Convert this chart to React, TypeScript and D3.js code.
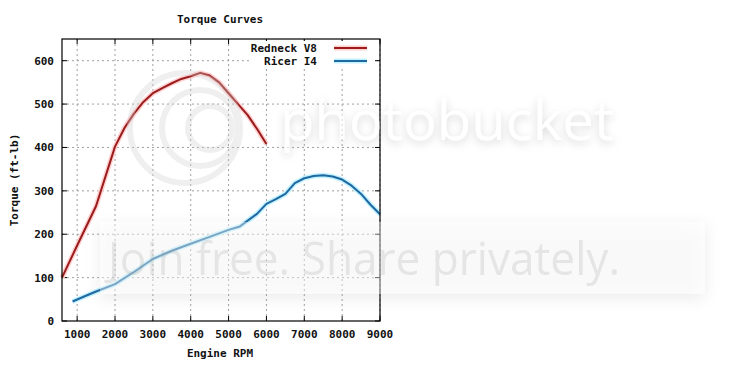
import React from "react";
import * as d3 from "d3";

const v8Rpm = [600, 1000, 1500, 2000, 2250, 2500, 2750, 3000, 3250, 3500, 3750, 4000, 4250, 4500, 4750, 5000, 5250, 5500, 5750, 6000];
const v8Torque = [100, 174, 265, 402, 445, 478, 505, 525, 537, 548, 558, 564, 572, 566, 550, 525, 500, 475, 443, 408];

const i4Rpm = [880, 1200, 1500, 2000, 2500, 3000, 3500, 4000, 4500, 5000, 5300, 5750, 6000, 6250, 6500, 6750, 7000, 7250, 7500, 7750, 8000, 8250, 8500, 8750, 9000];
const i4Torque = [45, 57, 68, 85, 113, 143, 162, 178, 194, 210, 218, 247, 270, 281, 293, 318, 329, 334, 336, 333, 326, 312, 293, 268, 246];

const xTicks = [1000, 2000, 3000, 4000, 5000, 6000, 7000, 8000, 9000];
const yTicks = [0, 100, 200, 300, 400, 500, 600];

const seriesNames = ["Redneck V8", "Ricer I4"];
const title = "Torque Curves";
const xLabel = "Engine RPM";
const yLabel = "Torque (ft-lb)";

const W = 740, H = 374;
const L = 62, R = 380, T = 39, B = 321;
const FONT = "'DejaVu Sans Mono', monospace";

export default function App() {
  const x = d3.scaleLinear().domain([600, 9000]).range([L, R]);
  const y = d3.scaleLinear().domain([0, 650]).range([B, T]);
  const line = d3.line<[number, number]>().x(d => x(d[0])).y(d => y(d[1]));
  const v8 = line(v8Rpm.map((r, i) => [r, v8Torque[i]] as [number, number])) || "";
  const i4 = line(i4Rpm.map((r, i) => [r, i4Torque[i]] as [number, number])) || "";
  const colors = ["#9a1c1c", "#1f68a0"];
  const halos = ["#ffd0d0", "#c0f2ff"];
  const legendY = [48, 61];

  return (
    <svg width={W} height={H} style={{ position: "absolute", left: 0, top: 0, background: "#fff" }}>
      <defs>
        <filter id="blur8" x="-20%" y="-50%" width="140%" height="200%">
          <feGaussianBlur stdDeviation="8" />
        </filter>
        <filter id="shadow" x="-10%" y="-50%" width="120%" height="200%">
          <feDropShadow dx="0" dy="3" stdDeviation="4" floodColor="#888" floodOpacity="0.6" />
        </filter>
      </defs>
      <rect x={0} y={0} width={W} height={H} fill="#fff" />
      {/* grid */}
      {xTicks.map(t => (
        <line key={"gx" + t} x1={x(t)} x2={x(t)} y1={T} y2={B} stroke="#a0a0a0" strokeDasharray="2,3" />
      ))}
      {yTicks.filter(t => t > 0).map(t => (
        <line key={"gy" + t} x1={L} x2={R} y1={y(t)} y2={y(t)} stroke="#a0a0a0" strokeDasharray="2,3" />
      ))}
      {/* ticks */}
      {xTicks.map(t => (
        <g key={"tx" + t}>
          <line x1={x(t)} x2={x(t)} y1={B} y2={B - 5} stroke="#000" />
          <line x1={x(t)} x2={x(t)} y1={T} y2={T + 5} stroke="#000" />
          <text x={x(t)} y={338} textAnchor="middle" fontFamily={FONT} fontWeight="bold" fontSize={11} fill="#111">{t}</text>
        </g>
      ))}
      {yTicks.map(t => (
        <g key={"ty" + t}>
          <line x1={L} x2={L + 5} y1={y(t)} y2={y(t)} stroke="#000" />
          <line x1={R} x2={R - 5} y1={y(t)} y2={y(t)} stroke="#000" />
          <text x={54} y={y(t) + 4} textAnchor="end" fontFamily={FONT} fontWeight="bold" fontSize={11} fill="#111">{t}</text>
        </g>
      ))}
      {/* legend background */}
      <rect x={250} y={41} width={125} height={26} fill="#fff" />
      {/* lines */}
      <path d={v8} fill="none" stroke={halos[0]} strokeWidth={5} strokeLinejoin="round" />
      <path d={i4} fill="none" stroke={halos[1]} strokeWidth={5} strokeLinejoin="round" />
      <path d={v8} fill="none" stroke={colors[0]} strokeWidth={2} strokeLinejoin="round" />
      <path d={i4} fill="none" stroke={colors[1]} strokeWidth={2} strokeLinejoin="round" />
      {/* border */}
      <rect x={L} y={T} width={R - L} height={B - T} fill="none" stroke="#000" strokeWidth={1.2} />
      {/* legend */}
      {seriesNames.map((n, i) => (
        <g key={n}>
          <text x={317} y={legendY[i] + 4} textAnchor="end" fontFamily={FONT} fontWeight="bold" fontSize={11} fill="#111">{n}</text>
          <line x1={334} x2={367} y1={legendY[i]} y2={legendY[i]} stroke={halos[i]} strokeWidth={5} />
          <line x1={334} x2={367} y1={legendY[i]} y2={legendY[i]} stroke={colors[i]} strokeWidth={2} />
        </g>
      ))}
      {/* titles */}
      <text x={220} y={23} textAnchor="middle" fontFamily={FONT} fontWeight="bold" fontSize={11} fill="#111">{title}</text>
      <text x={220} y={357} textAnchor="middle" fontFamily={FONT} fontWeight="bold" fontSize={11} fill="#111">{xLabel}</text>
      <text transform="translate(18,180) rotate(-90)" textAnchor="middle" fontFamily={FONT} fontWeight="bold" fontSize={11} fill="#111">{yLabel}</text>
      {/* watermark */}
      <g opacity={0.55} pointerEvents="none">
        <g fill="none" stroke="#cfcfcf" strokeWidth={6} opacity={0.6}>
          <circle cx={185} cy={128} r={55} />
          <circle cx={200} cy={128} r={38} />
          <circle cx={210} cy={128} r={22} />
        </g>
        <rect x={100} y={226} width={605} height={72} fill="#999" opacity={0.35} filter="url(#blur8)" />
        <rect x={100} y={222} width={605} height={72} fill="#fff" opacity={0.7} />
        <text x={108} y={275} fontFamily="'Open Sans', sans-serif" fontSize={46} fill="#d0d0d0" textLength={512} lengthAdjust="spacingAndGlyphs">Join free. Share privately.</text>
        <text x={280} y={140} fontFamily="'Open Sans', sans-serif" fontSize={54} fill="#fff" filter="url(#shadow)" textLength={334} lengthAdjust="spacingAndGlyphs">photobucket</text>
      </g>
    </svg>
  );
}
